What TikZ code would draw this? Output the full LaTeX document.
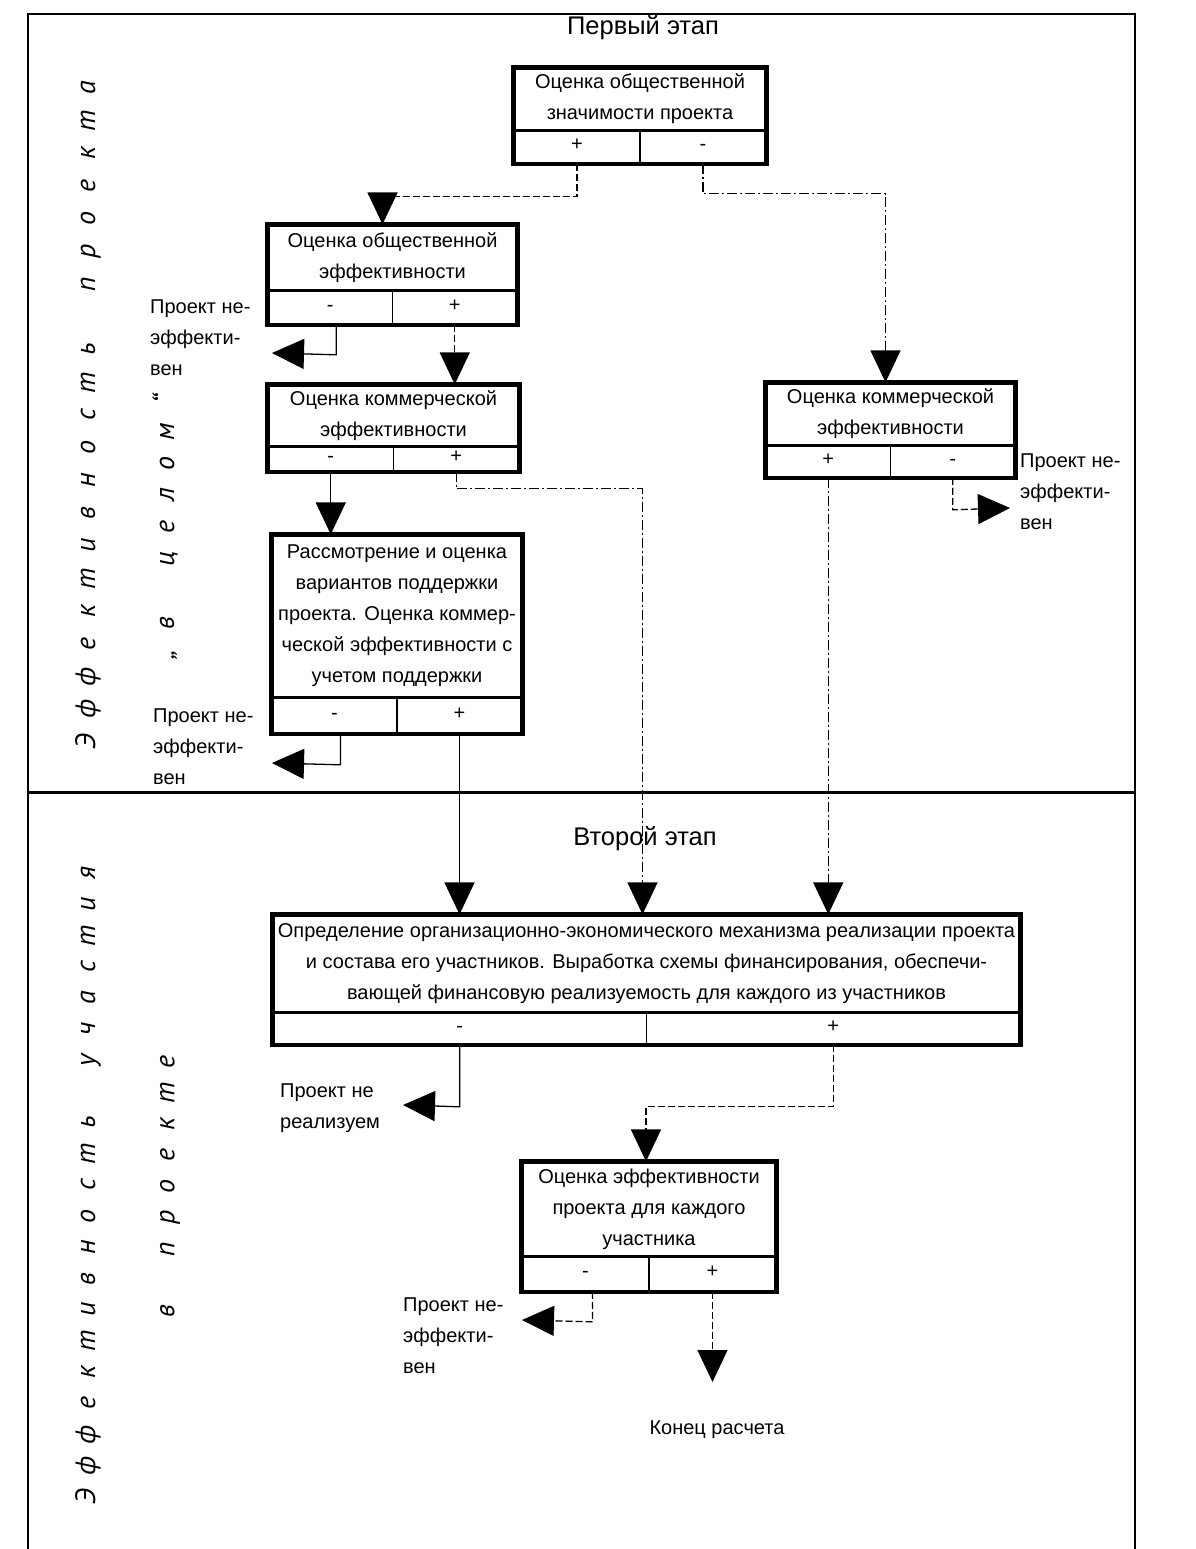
\documentclass[tikz,border=0pt]{standalone}
\usepackage{fontspec}
\setmainfont{Liberation Sans}
\newfontfamily\sidefont{PT Sans}
\usetikzlibrary{arrows.meta}
\makeatletter
\newlength\myslot
\def\myspaced#1#2{\setlength\myslot{#1}\my@sp#2\@nil}
\def\my@sp#1{\ifx#1\@nil\else\makebox[\myslot][c]{#1}\expandafter\my@sp\fi}
\makeatother
\tikzset{
 basefont/.style={font=\fontsize{20}{31}\selectfont},
 upper/.style={draw, line width=1.2pt, inner sep=0pt, align=center, basefont},
 cell/.style={draw, line width=1.2pt, inner sep=0pt, basefont, text height=0.75em, text depth=0pt},
 outer/.style={line width=4.5pt},
 conn/.style={line width=1.3pt},
 dsh/.style={dash pattern=on 7pt off 3pt},
 dd/.style={dash pattern=on 10pt off 3pt on 2pt off 3pt},
 tipd/.style={-{Triangle[width=30pt,length=32pt]}},
 lbl/.style={basefont, align=left, anchor=west, inner sep=0pt},
 side/.style={rotate=90, font=\sidefont\itshape\fontsize{28}{32}\selectfont, inner sep=0pt},
 titl/.style={font=\fontsize{25.5}{30}\selectfont, inner sep=0pt},
}
\newcommand\mkbox[9]{%
 \node[upper, minimum width={(#4-#2)*1pt}, minimum height={(#5-#3)*1pt}] (#1) at ({(#2+#4)/2},{(#3+#5)/2}) {#7};
 \node[cell, minimum width={(#4-#2)*0.5pt}, minimum height={(#6-#5)*1pt}, anchor=north west] (#1l) at (#1.south west) {#8};
 \node[cell, minimum width={(#4-#2)*0.5pt}, minimum height={(#6-#5)*1pt}, anchor=north east] (#1r) at (#1.south east) {#9};
 \draw[outer] (#1.north west) rectangle (#1r.south east);
}
\begin{document}
\begin{tikzpicture}[x=1pt,y=-1pt]
\useasboundingbox[fill=white] (0,0) rectangle (1195,1549);
% frame
\draw[line width=2pt] (28,1549) -- (28,14) -- (1135,14) -- (1135,1549);
\draw[line width=3pt] (28,792) -- (1135,792);
% titles
\node[titl] (t1) at (643,28) {Первый этап};
\node[titl] (t2) at (645,839) {Второй этап};
% side texts
\node[side] (s1) at (88,415) {\myspaced{32.7pt}{Эффективность~проекта}};
\node[side] (s2) at (165,527) {\myspaced{31.9pt}{„в~целом“}};
\node[side] (s3) at (88,1185) {\myspaced{31.2pt}{Эффективность~участия}};
\node[side] (s4) at (170,1186.5) {\myspaced{31.2pt}{в~проекте}};
% boxes
\mkbox{b1}{514}{68}{766}{130}{162}{Оценка общественной\\значимости проекта}{+}{-}
\mkbox{b2}{268}{225}{517}{290}{323}{Оценка общественной\\эффективности}{-}{+}
\mkbox{b3}{268}{385}{519}{446}{470}{Оценка коммерческой\\эффективности}{-}{+}
\mkbox{b4}{272}{535}{522}{697}{732}{Рассмотрение и оценка\\вариантов поддержки\\проекта. Оценка коммер-\\ческой эффективности с\\учетом поддержки}{-}{+}
\mkbox{br}{766}{383}{1015}{445}{476}{Оценка коммерческой\\эффективности}{+}{-}
\mkbox{b5}{273}{915}{1020}{1012}{1043}{Определение организационно-экономического механизма реализации проекта\\и состава его участников. Выработка схемы финансирования, обеспечи-\\вающей финансовую реализуемость для каждого из участников}{-}{+}
\mkbox{b6}{522}{1162}{776}{1256}{1290}{Оценка эффективности\\проекта для каждого\\участника}{-}{+}
% labels
\node[lbl] (n1) at (150,338) {Проект не-\\эффекти-\\вен};
\node[lbl] (n2) at (153,747) {Проект не-\\эффекти-\\вен};
\node[lbl] (n3) at (1020,492) {Проект не-\\эффекти-\\вен};
\node[lbl] (n4) at (280,1108) {Проект не\\реализуем};
\node[lbl] (n5) at (403,1336) {Проект не-\\эффекти-\\вен};
\node[basefont, inner sep=0pt] (end) at (717,1430) {Конец расчета};
% free ends
\coordinate (e1) at (272,353);
\coordinate (e2) at (272,763);
\coordinate (e3) at (1010,508);
\coordinate (e4) at (403,1105);
\coordinate (e5) at (522,1320);
\coordinate (e6) at (712.5,1382);
% connectors
\draw[conn,dsh,tipd] (b1l.south) -- ++(0,33) -| ([xshift=-10pt]b2.north);
\draw[conn,dd,tipd] (b1r.south) -- ++(0,30) -| ([xshift=-5pt]br.north);
\draw[conn,tipd] ([xshift=6pt]b2l.south) -- ++(0,30) -- (e1);
\draw[conn,dsh,tipd] (b2r.south) -- (b2r.south |- b3.north);
\draw[conn,tipd] (b3l.south) -- (b3l.south |- b4.north);
\draw[conn,dd,tipd] (b3r.south) -- ++(0,17) -| ([xshift=-4pt]b5.north);
\draw[conn,tipd] ([xshift=6pt]b4l.south) -- ++(0,31) -- (e2);
\draw[conn,tipd] (b4r.south) -- (b4r.south |- b5.north);
\draw[conn,dsh,tipd] (brr.south) -- ++(0,32) -- (e3);
\draw[conn,dd,tipd] (brl.south) -- (brl.south |- b5.north);
\draw[conn,tipd] (b5l.south) -- ++(0,62) -- (e4);
\draw[conn,dsh,tipd] (b5r.south) -- ++(0,62) -| ([xshift=-3pt]b6.north);
\draw[conn,dsh,tipd] ([xshift=7pt]b6l.south) -- ++(0,30) -- (e5);
\draw[conn,dsh,tipd] (b6r.south) -- (e6);
\end{tikzpicture}
\end{document}
